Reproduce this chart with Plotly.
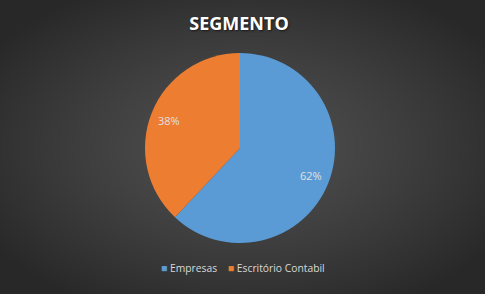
import zlib, struct, base64, math
import numpy as np
import plotly.graph_objects as go

categories = ["Empresas", "Escritório Contabil"]
values = [62, 38]
colors = ["#5b9bd5", "#ed7d31"]
title_text = "SEGMENTO"

W, H = 485, 294
PCX, PCY, PR = 240, 148, 95  # pie centre / radius in pixels

def png_data_uri(arr):
    h, w, _ = arr.shape
    raw = b"".join(b"\x00" + arr[i].tobytes() for i in range(h))
    def chunk(t, d):
        c = struct.pack(">I", len(d)) + t + d
        return c + struct.pack(">I", zlib.crc32(t + d) & 0xffffffff)
    png = b"\x89PNG\r\n\x1a\n" + chunk(b"IHDR", struct.pack(">IIBBBBB", w, h, 8, 2, 0, 0, 0)) \
        + chunk(b"IDAT", zlib.compress(raw, 9)) + chunk(b"IEND", b"")
    return "data:image/png;base64," + base64.b64encode(png).decode()

# radial background gradient
yy, xx = np.mgrid[0:H, 0:W]
cx, cy = W / 2, H / 2
d = np.sqrt(((xx - cx) / (W * 0.62)) ** 2 + ((yy - cy) / (H * 0.62)) ** 2)
d = np.clip(d, 0, 1)
inner, outer = 80, 40
v = (inner + (outer - inner) * d ** 1.3).astype(np.uint8)
bg = np.stack([v, v, v], axis=-1)
bg_uri = png_data_uri(bg)

fig = go.Figure(go.Pie(
    labels=categories,
    values=values,
    marker=dict(colors=colors, line=dict(width=0)),
    sort=False,
    direction="clockwise",
    rotation=0,
    textinfo="none",
    domain=dict(x=[(PCX - PR) / W, (PCX + PR) / W], y=[(H - PCY - PR) / H, (H - PCY + PR) / H]),
    hoverinfo="label+percent",
    showlegend=False,
))

# percentage labels placed at 80% of the radius, at each slice's mid-angle
annotations = []
total = sum(values)
cum = 0
for val in values:
    mid = (cum + val / 2) / total * 2 * math.pi
    cum += val
    px = PCX + 0.8 * PR * math.sin(mid)
    py = PCY - 0.8 * PR * math.cos(mid)
    annotations.append(dict(
        x=px / W, y=1 - py / H, xref="paper", yref="paper", showarrow=False,
        text=f"{round(val / total * 100)}%",
        font=dict(family="Open Sans, sans-serif", size=11, color="#e0e0e0"),
        xanchor="center", yanchor="middle"))

# legend row
legend_parts = []
for lab, col in zip(categories, colors):
    legend_parts.append(f"<span style='color:{col};font-size:10.5px'>■</span> {lab}")
annotations.append(dict(
    x=243 / W, y=1 - 268 / H, xref="paper", yref="paper", showarrow=False,
    text="    ".join(legend_parts),
    font=dict(family="Open Sans, sans-serif", size=10.3, color="#d9d9d9"),
    xanchor="center", yanchor="middle"))

fig.update_layout(
    width=W, height=H,
    margin=dict(l=0, r=0, t=0, b=0),
    paper_bgcolor="#3c3c3c",
    plot_bgcolor="#3c3c3c",
    images=[dict(source=bg_uri, xref="paper", yref="paper", x=0, y=1,
                 sizex=1, sizey=1, sizing="stretch", layer="below",
                 xanchor="left", yanchor="top")],
    title=dict(text="<b>" + title_text + "</b>", x=239 / W, xanchor="center",
               y=1 - 24 / H, yanchor="middle",
               font=dict(family="Open Sans, sans-serif", size=18, color="#ffffff",
                         shadow="1px 1px 2px rgba(0,0,0,0.6)")),
    annotations=annotations,
    showlegend=False,
)

fig.write_html("out.html")
